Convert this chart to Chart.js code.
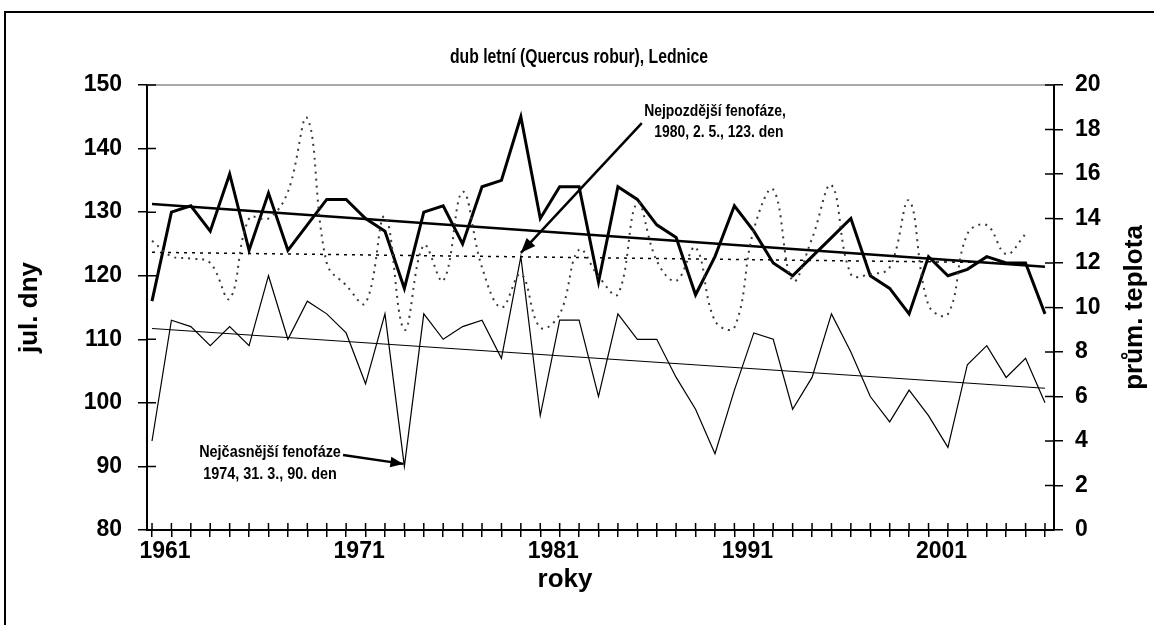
<!DOCTYPE html>
<html>
<head>
<meta charset="utf-8">
<script src="https://cdn.jsdelivr.net/npm/chart.js@4/dist/chart.umd.min.js"></script>
<style>
  html, body { margin: 0; padding: 0; background: #fff; }
  #obal { width: 1154px; height: 625px; }
</style>
</head>
<body>
<div id="obal"><canvas id="graf" width="1154" height="625"></canvas></div>
<script>
// dub letní – Lednice: fenofáze (jul. dny) + průměrná teplota

const roky = [
  1961, 1962, 1963, 1964, 1965, 1966, 1967, 1968, 1969, 1970,
  1971, 1972, 1973, 1974, 1975, 1976, 1977, 1978, 1979, 1980,
  1981, 1982, 1983, 1984, 1985, 1986, 1987, 1988, 1989, 1990,
  1991, 1992, 1993, 1994, 1995, 1996, 1997, 1998, 1999, 2000,
  2001, 2002, 2003, 2004, 2005, 2006, 2007
];
const popiskyRoku = [1961, 1971, 1981, 1991, 2001];

// silná čára
const fazeSilna = [
  116, 130, 131, 127, 136, 124, 133, 124, 128, 132,
  132, 129, 127, 118, 130, 131, 125, 134, 135, 145,
  129, 134, 134, 119, 134, 132, 128, 126, 117, 123,
  131, 127, 122, 120, 123, 126, 129, 120, 118, 114,
  123, 120, 121, 123, 122, 122, 114
];
// tenká čára
const fazeTenka = [
  94, 113, 112, 109, 112, 109, 120, 110, 116, 114,
  111, 103, 114, 90, 114, 110, 112, 113, 107, 123,
  98, 113, 113, 101, 114, 110, 110, 104, 99, 92,
  102, 111, 110, 99, 104, 114, 108, 101, 97, 102,
  98, 93, 106, 109, 104, 107, 100
];
// průměrná teplota (pravá osa), 1961–2006
const teplota = [
  13.0, 12.3, 12.2, 12.0, 10.4, 14.0, 14.0, 15.2, 18.5, 12.0,
  11.0, 10.2, 14.1, 9.0, 12.8, 11.2, 15.2, 11.8, 10.0, 11.5,
  9.1, 9.7, 12.6, 11.4, 10.6, 14.7, 12.1, 11.2, 12.7, 9.4,
  9.1, 13.5, 15.3, 11.2, 13.1, 15.5, 11.5, 11.5, 11.8, 14.8,
  10.1, 9.7, 13.3, 13.7, 12.4, 13.3
];

// lineární trendy – krajní body
const trendSilnaRoky = [1961, 2007];
const trendSilna     = [131.3, 121.4];
const trendTenkaRoky = [1961, 2007];
const trendTenka     = [111.7, 102.3];
const trendTeplRoky  = [1961, 2006];
const trendTepl      = [12.48, 12.0];

const tickyLevo  = [80, 90, 100, 110, 120, 130, 140, 150];
const tickyPravo = [0, 2, 4, 6, 8, 10, 12, 14, 16, 18, 20];

const PISMO = "'Liberation Sans', Arial, sans-serif";

const body = (xs, ys) => ys.map((v, i) => ({ x: xs[i], y: v }));

// text stažený do šířky (náhrada za Arial Narrow)
function uzkyText(ctx, txt, x, y, pomer) {
  ctx.save();
  ctx.translate(x, y);
  ctx.scale(pomer, 1);
  ctx.fillText(txt, 0, 0);
  ctx.restore();
}

function sipka(ctx, x1, y1, x2, y2, sirka, hlava) {
  ctx.beginPath();
  ctx.moveTo(x1, y1);
  ctx.lineTo(x2, y2);
  ctx.lineWidth = sirka;
  ctx.stroke();
  const a = Math.atan2(y2 - y1, x2 - x1);
  ctx.beginPath();
  ctx.moveTo(x2, y2);
  ctx.lineTo(x2 - hlava * Math.cos(a - 0.38), y2 - hlava * Math.sin(a - 0.38));
  ctx.lineTo(x2 - hlava * Math.cos(a + 0.38), y2 - hlava * Math.sin(a + 0.38));
  ctx.closePath();
  ctx.fill();
}

const popisy = {
  id: 'popisy',
  afterDraw(chart) {
    const ctx = chart.ctx;
    const { x, y, y2 } = chart.scales;
    const a = chart.chartArea;
    ctx.save();
    ctx.fillStyle = '#000';
    ctx.strokeStyle = '#000';

    // rámeček obrázku
    ctx.lineWidth = 2;
    ctx.beginPath();
    ctx.moveTo(5, 625); ctx.lineTo(5, 12); ctx.lineTo(1154, 12);
    ctx.stroke();

    // horní okraj oblasti grafu
    ctx.strokeStyle = '#8c8c8c';
    ctx.lineWidth = 1.5;
    ctx.beginPath();
    ctx.moveTo(a.left, a.top); ctx.lineTo(a.right, a.top);
    ctx.stroke();

    // vnitřní části značek (křížové značky)
    ctx.strokeStyle = '#000';
    ctx.lineWidth = 1.5;
    ctx.beginPath();
    tickyLevo.forEach(v => {
      const py = y.getPixelForValue(v);
      ctx.moveTo(a.left, py); ctx.lineTo(a.left + 9, py);
    });
    tickyPravo.forEach(v => {
      const py = y2.getPixelForValue(v);
      ctx.moveTo(a.right - 9, py); ctx.lineTo(a.right, py);
    });
    roky.forEach(r => {
      const px = x.getPixelForValue(r);
      ctx.moveTo(px, a.bottom - 7); ctx.lineTo(px, a.bottom);
    });
    ctx.stroke();

    // nadpis
    ctx.textAlign = 'center';
    ctx.textBaseline = 'middle';
    ctx.font = 'bold 21px ' + PISMO;
    uzkyText(ctx, 'dub letní (Quercus robur), Lednice', 579, 57, 0.75);

    // názvy os
    ctx.font = 'bold 26px ' + PISMO;
    ctx.fillText('roky', 565, 580);
    ctx.save();
    ctx.translate(30, (a.top + a.bottom) / 2);
    ctx.rotate(-Math.PI / 2);
    ctx.fillText('jul. dny', 0, 0);
    ctx.restore();
    ctx.save();
    ctx.translate(1135, (a.top + a.bottom) / 2);
    ctx.rotate(-Math.PI / 2);
    ctx.fillText('prům. teplota', 0, 0);
    ctx.restore();

    // poznámky se šipkami
    ctx.font = 'bold 16px ' + PISMO;
    uzkyText(ctx, 'Nejpozdější fenofáze,', x.getPixelForValue(1990.0), y.getPixelForValue(145.75), 0.87);
    uzkyText(ctx, '1980, 2. 5., 123. den', x.getPixelForValue(1990.2), y.getPixelForValue(142.45), 0.87);
    sipka(ctx,
      x.getPixelForValue(1986.23), y.getPixelForValue(144.0),
      x.getPixelForValue(1980), y.getPixelForValue(123.6), 2.5, 16);

    uzkyText(ctx, 'Nejčasnější fenofáze', x.getPixelForValue(1967.08), y.getPixelForValue(92.1), 0.9);
    uzkyText(ctx, '1974, 31. 3., 90. den', x.getPixelForValue(1967.08), y.getPixelForValue(88.65), 0.9);
    sipka(ctx,
      x.getPixelForValue(1970.84), y.getPixelForValue(91.8),
      x.getPixelForValue(1973.95), y.getPixelForValue(90.4), 2.5, 14);
    ctx.restore();
  }
};

const tickFont = { family: PISMO, size: 23, weight: 'bold' };

new Chart(document.getElementById('graf'), {
  type: 'line',
  data: {
    datasets: [
      {
        label: 'teplota', yAxisID: 'y2',
        data: body(roky, teplota),
        borderColor: '#3a3a3a', borderWidth: 2, borderDash: [2, 5],
        tension: 0.4, pointRadius: 0, fill: false
      },
      {
        label: 'trend teploty', yAxisID: 'y2',
        data: body(trendTeplRoky, trendTepl),
        borderColor: '#000', borderWidth: 1.5, borderDash: [3, 5],
        pointRadius: 0, fill: false
      },
      {
        label: 'tenká', yAxisID: 'y',
        data: body(roky, fazeTenka),
        borderColor: '#000', borderWidth: 1.2, pointRadius: 0, tension: 0, fill: false
      },
      {
        label: 'trend tenká', yAxisID: 'y',
        data: body(trendTenkaRoky, trendTenka),
        borderColor: '#000', borderWidth: 1.2, pointRadius: 0, fill: false
      },
      {
        label: 'silná', yAxisID: 'y',
        data: body(roky, fazeSilna),
        borderColor: '#000', borderWidth: 3, pointRadius: 0, tension: 0, fill: false
      },
      {
        label: 'trend silná', yAxisID: 'y',
        data: body(trendSilnaRoky, trendSilna),
        borderColor: '#000', borderWidth: 2.5, pointRadius: 0, fill: false
      }
    ]
  },
  options: {
    responsive: false,
    animation: false,
    layout: { padding: { top: 85, left: 0, right: 0, bottom: 0 } },
    plugins: {
      legend: { display: false },
      tooltip: { enabled: false },
      title: { display: false }
    },
    scales: {
      x: {
        type: 'linear',
        min: 1960.742,
        max: 2007.464,
        afterFit: s => { s.height = 95; },
        afterBuildTicks: s => { s.ticks = roky.map(v => ({ value: v })); },
        grid: { drawOnChartArea: false, drawTicks: true, tickLength: 7, color: '#000', lineWidth: 1.5 },
        border: { color: '#000', width: 2 },
        ticks: {
          autoSkip: false, maxRotation: 0, minRotation: 0,
          callback: v => popiskyRoku.includes(v) ? String(v) : '',
          font: tickFont, color: '#000', padding: 1, labelOffset: 13
        }
      },
      y: {
        position: 'left',
        min: 80, max: 150,
        afterFit: s => { s.width = 147; },
        afterBuildTicks: s => { s.ticks = tickyLevo.map(v => ({ value: v })); },
        grid: { drawOnChartArea: false, tickLength: 9, color: '#000', lineWidth: 1.5 },
        border: { color: '#000', width: 2 },
        ticks: { font: tickFont, color: '#000', padding: 16 }
      },
      y2: {
        position: 'right',
        min: 0, max: 20,
        afterFit: s => { s.width = 100; },
        afterBuildTicks: s => { s.ticks = tickyPravo.map(v => ({ value: v })); },
        grid: { drawOnChartArea: false, tickLength: 9, color: '#000', lineWidth: 1.5 },
        border: { color: '#000', width: 2 },
        ticks: { font: tickFont, color: '#000', padding: 12 }
      }
    }
  },
  plugins: [popisy]
});
</script>
</body>
</html>
